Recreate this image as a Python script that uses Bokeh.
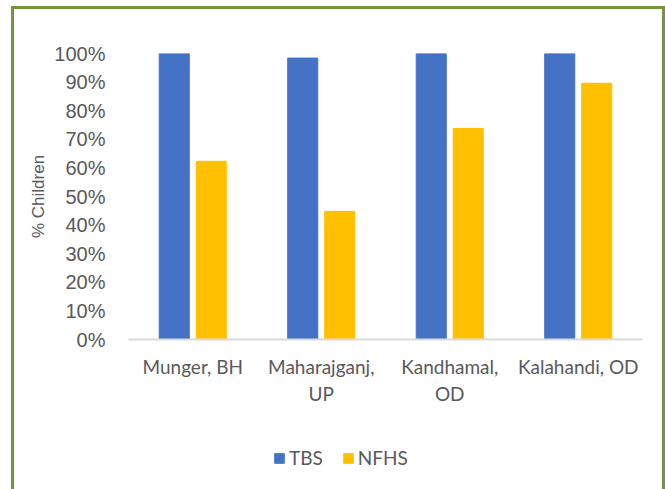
from bokeh.plotting import figure
from bokeh.layouts import column
from bokeh.models import ColumnDataSource, FactorRange, FixedTicker, NumeralTickFormatter, Legend, LegendItem
from bokeh.transform import dodge
from bokeh.embed import file_html
from bokeh.resources import INLINE

districts = ["Munger, BH", "Maharajganj,\nUP", "Kandhamal,\nOD", "Kalahandi, OD"]
tbs = [1.00, 0.984, 1.00, 1.00]
nfhs = [0.623, 0.448, 0.738, 0.896]
series = ["TBS", "NFHS"]
colors = ["#4472C4", "#FFC000"]
yticks = [0.0, 0.1, 0.2, 0.3, 0.4, 0.5, 0.6, 0.7, 0.8, 0.9, 1.0]

src = ColumnDataSource(dict(d=districts, tbs=tbs, nfhs=nfhs))
xr = FactorRange(*districts, range_padding=0)

p = figure(x_range=xr, y_range=(0, 1),
           width=648, height=420,
           min_border_left=114, min_border_right=20, min_border_top=44, min_border_bottom=90,
           output_backend="svg", toolbar_location=None)

p.vbar(x=dodge("d", -0.144, range=xr), top="tbs", width=0.234, source=src,
       fill_color=colors[0], line_color=colors[0])
p.vbar(x=dodge("d", 0.144, range=xr), top="nfhs", width=0.234, source=src,
       fill_color=colors[1], line_color=colors[1])

p.outline_line_color = None
p.background_fill_color = "white"
p.border_fill_color = "white"
p.xgrid.grid_line_color = None
p.ygrid.grid_line_color = None

p.yaxis.ticker = FixedTicker(ticks=yticks)
p.yaxis.formatter = NumeralTickFormatter(format="0%")
p.yaxis.axis_line_color = None
p.yaxis.major_tick_line_color = None
p.yaxis.minor_tick_line_color = None
p.yaxis.major_label_standoff = 17
p.yaxis.major_label_text_font = "Liberation Sans"
p.yaxis.major_label_text_font_size = "20px"
p.yaxis.major_label_text_color = "#595959"
p.yaxis.axis_label = "% Children"
p.yaxis.axis_label_text_font = "Liberation Sans"
p.yaxis.axis_label_text_font_style = "normal"
p.yaxis.axis_label_text_font_size = "17px"
p.yaxis.axis_label_text_color = "#595959"
p.yaxis.axis_label_standoff = 3

p.xaxis.axis_line_color = "#D9D9D9"
p.xaxis.axis_line_width = 2
p.xaxis.major_tick_line_color = None
p.xaxis.minor_tick_line_color = None
p.xaxis.major_label_standoff = 9
p.xaxis.major_label_text_font = "Lato"
p.xaxis.major_label_text_font_size = "19px"
p.xaxis.major_label_text_color = "#595959"
p.xaxis.major_label_orientation = "horizontal"

# legend strip below the chart (its renderers are hidden; only the legend shows)
lf = figure(width=648, height=60, x_range=xr, y_range=(0, 1),
            min_border=0, x_axis_type=None, y_axis_type=None,
            output_backend="svg", toolbar_location=None)
lf.outline_line_color = None
lf.grid.grid_line_color = None
lf.background_fill_color = "white"
lf.border_fill_color = "white"
k1 = lf.vbar(x="d", top="tbs", width=0.234, source=src, fill_color=colors[0], line_color=colors[0], visible=False)
k2 = lf.vbar(x="d", top="nfhs", width=0.234, source=src, fill_color=colors[1], line_color=colors[1], visible=False)

legend = Legend(items=[LegendItem(label=series[0], renderers=[k1]),
                       LegendItem(label=series[1], renderers=[k2])],
                orientation="horizontal", location=(145, 20),
                glyph_width=12, glyph_height=12, label_standoff=4, spacing=19,
                padding=0, margin=0, border_line_color=None, background_fill_alpha=0,
                inactive_fill_alpha=0,
                label_text_font="Lato", label_text_font_size="19px", label_text_color="#595959")
lf.add_layout(legend, "center")

layout = column(p, lf, spacing=0)
layout.margin = (6, 0, 0, 11)
layout.styles = {"border-top": "3px solid #77933C", "border-left": "3px solid #77933C",
                 "border-right": "3px solid #77933C"}

open("out.html", "w").write(file_html(layout, INLINE))
